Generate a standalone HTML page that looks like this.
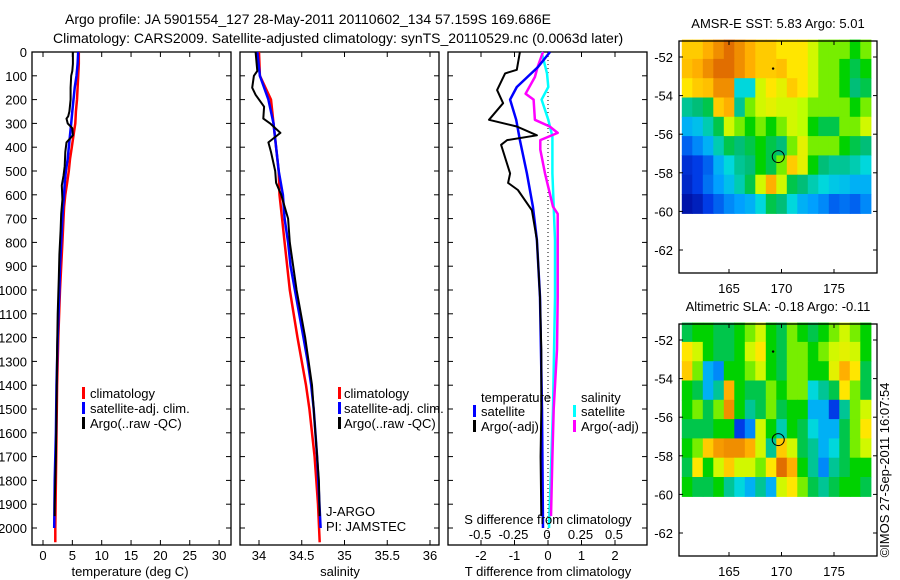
<!DOCTYPE html>
<html><head><meta charset="utf-8"><style>
html,body{margin:0;padding:0;background:#fff;}
svg{display:block;font-family:"Liberation Sans",sans-serif;}
</style></head><body>
<svg id="fig" width="900" height="580" viewBox="0 0 900 580" xmlns="http://www.w3.org/2000/svg">
<text x="65" y="24" font-size="14">Argo profile: JA 5901554_127 28-May-2011 20110602_134 57.159S 169.686E</text>
<text x="53" y="43" font-size="14">Climatology: CARS2009. Satellite-adjusted climatology: synTS_20110529.nc (0.0063d later)</text>
<g id="g"></g>
</svg>
<script>
// ---------- data ----------
const depthTicks=[0,100,200,300,400,500,600,700,800,900,1000,1100,1200,1300,1400,1500,1600,1700,1800,1900,2000];
const tempTicks=[0,5,10,15,20,25,30];
const salTicks=[34,34.5,35,35.5,36];
const salTickLabels=["34","34.5","35","35.5","36"];
const tdiffTicks=[-2,-1,0,1,2];
const sdiffTicks=[-0.5,-0.25,0,0.25,0.5];
const sdiffTickLabels=["-0.5","-0.25","0","0.25","0.5"];

const climTDepth=[0,50,100,150,200,250,300,350,400,450,500,550,600,650,700,800,900,1000,1200,1400,1600,1800,2000,2060];
const climT=[6.1,6.1,6.0,5.9,5.8,5.6,5.5,5.2,4.9,4.6,4.4,4.1,3.8,3.6,3.5,3.3,3.1,2.9,2.6,2.4,2.3,2.2,2.1,2.1];
const satTDepth=[0,50,100,150,200,250,300,350,400,450,500,550,600,650,700,800,900,1000,1200,1400,1600,1800,2000];
const satT=[6.0,5.9,5.7,5.4,5.2,5.0,4.8,4.6,4.4,4.2,3.9,3.7,3.6,3.4,3.3,3.1,2.9,2.8,2.5,2.3,2.2,2.0,1.9];
const argoTDepth=[0,50,80,100,150,200,250,270,280,300,320,350,380,420,480,520,560,620,680,750,850,950,1100,1250,1500,1700,1900,1950];
const argoT=[5.1,5.1,5.0,4.8,4.7,4.7,4.5,4.3,4.0,4.2,5.0,5.1,4.0,3.8,3.7,3.5,3.2,3.3,3.1,3.0,2.8,2.7,2.5,2.4,2.3,2.2,2.0,2.0];

const climSDepth=[0,100,200,300,400,500,600,700,800,1000,1200,1400,1500,1700,1900,2060];
const climS=[34.0,34.01,34.14,34.17,34.2,34.23,34.24,34.27,34.3,34.36,34.45,34.55,34.59,34.65,34.69,34.71];
const satSDepth=[0,100,200,300,400,500,600,700,800,900,1000,1100,1200,1300,1400,1500,1700,2000];
const satS=[33.98,34.01,34.11,34.17,34.2,34.23,34.28,34.3,34.34,34.37,34.42,34.47,34.52,34.57,34.61,34.64,34.68,34.72];
const argoSDepth=[0,80,100,150,180,230,280,300,340,380,420,500,550,600,700,800,900,1000,1100,1200,1300,1400,1600,1800,1950];
const argoS=[33.96,33.98,33.94,33.92,33.96,34.06,34.05,34.13,34.25,34.11,34.14,34.19,34.2,34.26,34.34,34.36,34.4,34.44,34.49,34.54,34.58,34.62,34.66,34.7,34.71];

const satDTDepth=[0,63,147,200,285,370,510,650,790,1030,1500,2000];
const satDT=[0.06,-0.3,-0.93,-1.13,-0.95,-0.84,-0.63,-0.45,-0.33,-0.24,-0.18,-0.15];
const argoDTDepth=[0,75,90,160,215,285,313,350,370,390,510,550,580,665,790,1030,1250,1500,1700,1950];
const argoDT=[-0.84,-0.93,-1.28,-1.52,-1.34,-1.76,-0.93,-0.33,-1.22,-1.4,-1.13,-1.19,-0.9,-0.48,-0.33,-0.24,-0.2,-0.2,-0.22,-0.2];
const satDSDepth=[0,90,147,200,285,355,510,650,790,1030,1500,2000];
const satDS=[-0.04,0,0.01,-0.04,0.01,0.04,0.04,0.05,0.06,0.06,0.045,0.015];
const argoDSDepth=[0,63,105,175,200,285,313,340,370,410,510,650,680,1030,1250,1500,1700,1950];
const argoDS=[-0.03,-0.07,-0.09,-0.16,-0.1,-0.09,0.02,0.08,-0.05,-0.05,-0.015,0.045,0.08,0.08,0.075,0.05,0.04,0.03];

const lonTicks=[165,170,175];
const latTicks=[-52,-54,-56,-58,-60,-62];
const gridLon0=160.5, gridLat0=-51.1;
const sstGrid=[
[.7,.7,.75,.8,.85,.8,.75,.7,.7,.65,.65,.65,.6,.55,.55,.55,.5,.55],
[.72,.75,.8,.85,.85,.8,.75,.7,.7,.72,.65,.65,.6,.55,.55,.5,.45,.5],
[.65,.7,.72,.8,.8,.35,.35,.6,.65,.62,.7,.65,.6,.55,.55,.5,.42,.45],
[.4,.42,.45,.7,.75,.4,.55,.6,.62,.6,.6,.58,.55,.55,.55,.55,.5,.55],
[.3,.32,.38,.45,.6,.55,.5,.55,.5,.55,.6,.58,.5,.45,.45,.55,.55,.6],
[.2,.25,.3,.38,.45,.42,.45,.5,.45,.42,.55,.62,.55,.55,.55,.5,.45,.42],
[.12,.15,.2,.3,.35,.4,.42,.5,.45,.55,.7,.62,.5,.42,.4,.4,.38,.35],
[.1,.15,.22,.28,.32,.38,.45,.6,.75,.6,.45,.42,.38,.35,.33,.32,.3,.3],
[.05,.08,.15,.2,.25,.28,.3,.35,.45,.42,.35,.3,.28,.25,.2,.22,.2,.25]];
const slaGrid=[
[.45,.5,.5,.45,.45,.5,.55,.6,.5,.45,.55,.5,.45,.5,.55,.6,.55,.5],
[.65,.6,.5,.45,.45,.5,.6,.65,.5,.45,.55,.55,.5,.55,.6,.62,.6,.5],
[.7,.55,.3,.25,.5,.5,.55,.6,.5,.45,.55,.55,.5,.5,.62,.75,.65,.45],
[.5,.45,.3,.4,.75,.5,.45,.45,.55,.5,.55,.55,.35,.4,.45,.65,.55,.45],
[.5,.55,.45,.55,.8,.5,.4,.45,.55,.45,.5,.5,.3,.3,.15,.4,.55,.6],
[.45,.45,.45,.5,.5,.15,.25,.6,.5,.38,.5,.45,.35,.3,.3,.45,.55,.65],
[.5,.55,.7,.78,.8,.8,.75,.6,.4,.7,.6,.45,.4,.3,.35,.45,.55,.6],
[.45,.65,.5,.6,.7,.6,.6,.55,.65,.85,.75,.5,.4,.25,.4,.45,.5,.5],
[.5,.45,.45,.5,.4,.35,.3,.4,.3,.6,.65,.55,.45,.4,.45,.5,.5,.45]];
const argoLon=169.69, argoLat=-57.16;

// ---------- helpers ----------
const NS="http://www.w3.org/2000/svg";
const G=document.getElementById('g');
function mk(tag,attrs,parent){const e=document.createElementNS(NS,tag);for(const k in attrs)e.setAttribute(k,attrs[k]);(parent||G).appendChild(e);return e;}
function txt(s,x,y,anchor,size,name){const t=mk('text',{x:x,y:y,'text-anchor':anchor||'start','font-size':size||13});t.textContent=s;


return t;}
const Y0=52, Y1=545;
const yD=d=>Y0+d*0.238;
function line(xs,ds,fx,color,w,name){let p='';for(let i=0;i<xs.length;i++)p+=(i?'L':'M')+fx(xs[i]).toFixed(1)+','+yD(ds[i]).toFixed(1);
const e=mk('path',{d:p,fill:'none',stroke:color,'stroke-width':w,'stroke-linejoin':'round'});

}
function box(x0,x1,y0,y1,name){const r=mk('rect',{x:x0,y:y0,width:x1-x0,height:y1-y0,fill:'none',stroke:'#000','stroke-width':1.3});

}
function depthTicksOn(x0,x1,labels){for(const d of depthTicks){const y=yD(d);mk('line',{x1:x0,x2:x0+5,y1:y,y2:y,stroke:'#000'});mk('line',{x1:x1,x2:x1-5,y1:y,y2:y,stroke:'#000'});
if(labels)txt(String(d),27,y+5,'end',13,'depth-tick-label');}}
function xTicks(vals,labs,fx,ylab){vals.forEach((v,i)=>{const x=fx(v);mk('line',{x1:x,x2:x,y1:Y1,y2:Y1-5,stroke:'#000'});mk('line',{x1:x,x2:x,y1:Y0,y2:Y0+5,stroke:'#000'});
txt(labs[i],x,ylab,'middle',13,'x-tick-label');});}
function legendBar(x,y,color){const r=mk('rect',{x:x,y:y-11,width:3,height:12,fill:color});

}

// ---------- panel 1 temperature ----------
const fT=t=>43+t*5.87;
box(32,231,Y0,Y1,'temperature-plot-area');depthTicksOn(32,231,true);
xTicks(tempTicks,tempTicks.map(String),fT,560);
line(climT,climTDepth,fT,'#f00',2.5,'climatology-temperature-line');
line(satT,satTDepth,fT,'#00f',2.5,'satellite-temperature-line');
line(argoT,argoTDepth,fT,'#000',2,'argo-temperature-line');
txt('temperature (deg C)',130,576,'middle',13,'temperature-axis-title');
legendBar(82,398,'#f00');txt('climatology',90,398,'start',13,'legend-climatology');
legendBar(82,413,'#00f');txt('satellite-adj. clim.',90,413,'start',13,'legend-satellite');
legendBar(82,428,'#000');txt('Argo(..raw -QC)',90,428,'start',13,'legend-argo');

// ---------- panel 2 salinity ----------
const fS=s=>259+(s-34)*85.5;
box(240,439,Y0,Y1,'salinity-plot-area');depthTicksOn(240,439,false);
xTicks(salTicks,salTickLabels,fS,560);
line(climS,climSDepth,fS,'#f00',2.5,'climatology-salinity-line');
line(satS,satSDepth,fS,'#00f',2.5,'satellite-salinity-line');
line(argoS,argoSDepth,fS,'#000',2,'argo-salinity-line');
txt('salinity',340,576,'middle',13,'salinity-axis-title');
legendBar(338,398,'#f00');txt('climatology',344,398,'start',13,'legend2-climatology');
legendBar(338,413,'#00f');txt('satellite-adj. clim.',344,413,'start',13,'legend2-satellite');
legendBar(338,428,'#000');txt('Argo(..raw -QC)',344,428,'start',13,'legend2-argo');
txt('J-ARGO',326,516,'start',13,'institution-label');
txt('PI: JAMSTEC',326,531,'start',13,'pi-label');

// ---------- panel 3 differences ----------
const fDT=t=>548+t*33.5;
const fDS=s=>547+s*134;
box(448,647,Y0,Y1,'difference-plot-area');depthTicksOn(448,647,false);
mk('line',{x1:fDT(0),x2:fDT(0),y1:Y0,y2:Y1,stroke:'#000','stroke-dasharray':'1,3'});
xTicks(tdiffTicks,tdiffTicks.map(String),fDT,560);
line(satDS,satDSDepth,fDS,'#0ff',2.5,'satellite-salinity-diff-line');
line(argoDS,argoDSDepth,fDS,'#f0f',2.5,'argo-salinity-diff-line');
line(satDT,satDTDepth,fDT,'#00f',2.5,'satellite-temperature-diff-line');
line(argoDT,argoDTDepth,fDT,'#000',2,'argo-temperature-diff-line');
sdiffTicks.forEach((v,i)=>txt(sdiffTickLabels[i],fDS(v),539,'middle',13,'s-diff-tick-label'));
txt('S difference from climatology',548,524,'middle',13,'s-diff-axis-title');
txt('T difference from climatology',548,576,'middle',13,'t-diff-axis-title');
txt('temperature',481,402,'start',13,'legend3-temperature-header');
legendBar(473,416,'#00f');txt('satellite',481,416,'start',13,'legend3-t-satellite');
legendBar(473,431,'#000');txt('Argo(-adj)',481,431,'start',13,'legend3-t-argo');
txt('salinity',581,402,'start',13,'legend3-salinity-header');
legendBar(573,416,'#0ff');txt('satellite',581,416,'start',13,'legend3-s-satellite');
legendBar(573,431,'#f0f');txt('Argo(-adj)',581,431,'start',13,'legend3-s-argo');

// ---------- maps ----------
const cmapStops=[[0,0,0,140],[0.15,0,60,230],[0.28,0,160,255],[0.35,0,215,220],[0.42,0,190,120],[0.5,0,210,0],[0.58,190,255,0],[0.65,255,230,0],[0.75,255,175,0],[0.85,225,110,0],[1,160,20,0]];
function cmap(v){v=Math.max(0,Math.min(1,v));
for(let i=1;i<cmapStops.length;i++){const a=cmapStops[i-1],b=cmapStops[i];if(v<=b[0]){const t=(v-a[0])/(b[0]-a[0]);
return 'rgb('+Math.round(a[1]+t*(b[1]-a[1]))+','+Math.round(a[2]+t*(b[2]-a[2]))+','+Math.round(a[3]+t*(b[3]-a[3]))+')';}}
return 'rgb(160,20,0)';}
function map(top,grid,title,name){
const L=679,R=877,T=top,B=top+232;
const fx=lon=>729+(lon-165)*10.5;
const fy=lat=>(top+16)+(-52-lat)*19.3;
txt(title,778,top-13,'middle',13,name+'-title');
for(let r=0;r<grid.length;r++)for(let c=0;c<grid[r].length;c++){
 const x0=Math.max(L,fx(gridLon0+c)),x1=Math.min(R,fx(gridLon0+c+1));
 const y0=fy(gridLat0-r),y1=Math.min(fy(-60.1),fy(gridLat0-r-1));
 const cell=mk('rect',{x:x0.toFixed(1),y:y0.toFixed(1),width:(x1-x0+0.6).toFixed(1),height:(y1-y0+0.6).toFixed(1),fill:cmap(grid[r][c])});
 
 
}
box(L,R,T,B,name+'-frame');
for(const lon of lonTicks){const x=fx(lon);mk('line',{x1:x,x2:x,y1:T,y2:T+4,stroke:'#000'});mk('line',{x1:x,x2:x,y1:B,y2:B-4,stroke:'#000'});txt(String(lon),x,B+20,'middle',13,name+'-lon-label');}
for(const lat of latTicks){const y=fy(lat);mk('line',{x1:L,x2:L+4,y1:y,y2:y,stroke:'#000'});mk('line',{x1:R,x2:R-4,y1:y,y2:y,stroke:'#000'});txt(String(lat),673,y+5,'end',13,name+'-lat-label');}
const c=mk('circle',{cx:fx(argoLon),cy:fy(argoLat),r:6,fill:'none',stroke:'#000','stroke-width':1});


mk('circle',{cx:fx(169.2),cy:fy(-52.6),r:1.2,fill:'#000'});
}
map(41,sstGrid,'AMSR-E SST: 5.83 Argo: 5.01','sst-map');
map(324,slaGrid,'Altimetric SLA: -0.18 Argo: -0.11','sla-map');
const cr=txt('©IMOS 27-Sep-2011 16:07:54',0,0,'middle',13,'copyright-stamp');
cr.setAttribute('transform','translate(889,470) rotate(-90)');
</script>
</body></html>
